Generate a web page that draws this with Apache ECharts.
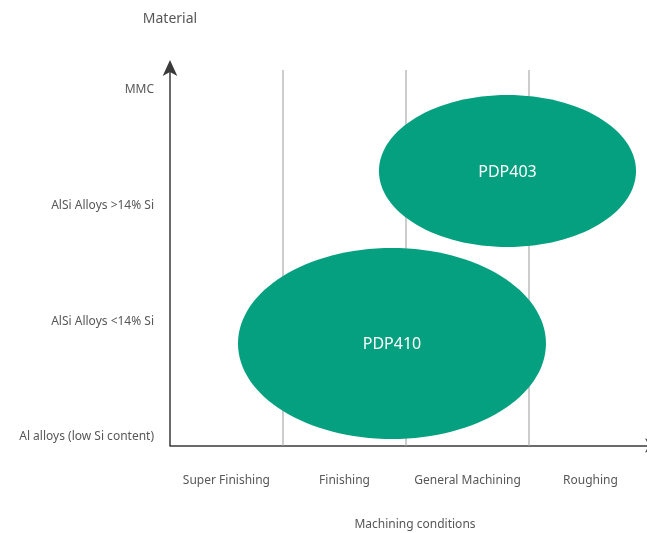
<!DOCTYPE html>
<html>
<head>
<meta charset="utf-8">
<script src="https://cdn.jsdelivr.net/npm/echarts@6/dist/echarts.min.js"></script>
<style>
	html, body { margin: 0; padding: 0; background: #fff; }
	#chart { width: 647px; height: 533px; }
</style>
</head>
<body>
<div id="chart"></div>
<script>
	// material levels (y), bottom to top
	var materials = ['Al alloys (low Si content)', 'AlSi Alloys <14% Si', 'AlSi Alloys >14% Si', 'MMC'];
	var materialValues = [0, 1, 2, 3];
	// machining conditions (x) and where their labels sit
	var conditions = ['Super Finishing', 'Finishing', 'General Machining', 'Roughing'];
	var conditionValues = [0.54, 1.5, 2.5, 3.5];
	// vertical separators between conditions
	var conditionEdges = [1, 2, 3];
	// grades: centre x, centre y, radius x, radius y
	var grades = ['PDP403', 'PDP410'];
	var gradeCx = [2.825, 1.886];
	var gradeCy = [2.30, 0.808];
	var gradeRx = [1.045, 1.252];
	var gradeRy = [0.657, 0.826];

	var FONT = '"Noto Sans", sans-serif';
	var GREEN = '#05a07f';
	var TEXT = '#575757';

	var myChart = echarts.init(document.getElementById('chart'));

	var data = [];
	for (var i = 0; i < grades.length; i++) {
		data.push([gradeCx[i], gradeCy[i], gradeRx[i], gradeRy[i], grades[i]]);
	}

	function renderEllipse(params, api) {
		var c = api.coord([api.value(0), api.value(1)]);
		var s = api.size([api.value(2), api.value(3)]);
		return {
			type: 'group',
			children: [{
				type: 'ellipse',
				shape: { cx: c[0], cy: c[1], rx: s[0], ry: s[1] },
				style: { fill: GREEN }
			}, {
				type: 'text',
				x: c[0],
				y: c[1] + 1,
				style: {
					text: data[params.dataIndex][4],
					fill: '#fff',
					font: '16px ' + FONT,
					align: 'center',
					verticalAlign: 'middle'
				}
			}]
		};
	}

	var option = {
		animation: false,
		grid: {
			left: 170,
			top: 70,
			width: 490,
			bottom: 87.5,
			outerBoundsMode: 'none'
		},
		xAxis: {
			type: 'value',
			min: 0.0813,
			max: 4.065,
			name: 'Machining conditions',
			nameLocation: 'middle',
			nameGap: 73,
			nameTextStyle: { color: TEXT, fontSize: 12, fontFamily: FONT },
			axisLine: {
				onZero: false,
				lineStyle: { color: '#3a3a3a', width: 1.5 },
				symbol: ['none', 'arrow'],
				symbolSize: [11, 15]
			},
			axisTick: { show: false },
			splitLine: { show: false },
			axisLabel: {
				customValues: conditionValues,
				formatter: function(v) {
					return conditions[conditionValues.indexOf(v)];
				},
				color: TEXT,
				fontSize: 12,
				fontFamily: FONT,
				margin: 29
			}
		},
		yAxis: {
			type: 'value',
			min: -0.0735,
			max: 3.173,
			name: 'Material',
			nameLocation: 'end',
			nameGap: 44,
			nameTextStyle: { color: TEXT, fontSize: 14, fontFamily: FONT, align: 'center' },
			axisLine: {
				show: true,
				onZero: false,
				lineStyle: { color: '#3a3a3a', width: 1.5 },
				symbol: ['none', 'arrow'],
				symbolSize: [11, 16],
				symbolOffset: [0, 10]
			},
			axisTick: { show: false },
			splitLine: { show: false },
			axisLabel: {
				customValues: materialValues,
				formatter: function(v) {
					return materials[v];
				},
				color: TEXT,
				fontSize: 12,
				fontFamily: FONT,
				margin: 16
			}
		},
		series: [{
			type: 'custom',
			renderItem: renderEllipse,
			data: data,
			z: 3,
			markLine: {
				silent: true,
				z: 1,
				symbol: 'none',
				label: { show: false },
				lineStyle: { color: '#bdbdbd', width: 1.5, type: 'solid' },
				data: conditionEdges.map(function(v) { return { xAxis: v }; })
			}
		}]
	};
	myChart.setOption(option);
</script>
</body>
</html>
